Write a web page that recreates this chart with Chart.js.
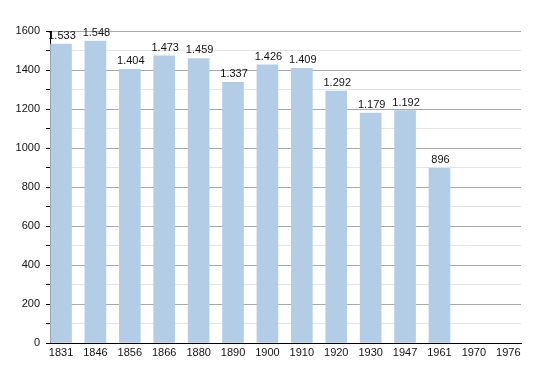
<!DOCTYPE html>
<html>
<head>
<meta charset="utf-8">
<script src="https://cdn.jsdelivr.net/npm/chart.js@4"></script>
<style>
    html, body { margin: 0; padding: 0; background: #fff; }
    canvas { display: block; }
</style>
</head>
<body>
<canvas id="popChart" width="550" height="373"></canvas>
<script>
// population by census year
const years = ['1831', '1846', '1856', '1866', '1880', '1890', '1900', '1910', '1920', '1930', '1947', '1961', '1970', '1976'];
const population = [1533, 1548, 1404, 1473, 1459, 1337, 1426, 1409, 1292, 1179, 1192, 896, null, null];
const yTicks = [0, 200, 400, 600, 800, 1000, 1200, 1400, 1600];

function fmt(v) {
    return String(v).replace(/\B(?=(\d{3})+(?!\d))/g, '.');
}

// values written above each bar
const barLabels = {
    id: 'barLabels',
    afterDatasetsDraw(chart) {
        const ctx = chart.ctx;
        const meta = chart.getDatasetMeta(0);
        ctx.save();
        ctx.font = '11px "Liberation Sans", Arial, sans-serif';
        ctx.fillStyle = '#111';
        ctx.textAlign = 'center';
        ctx.textBaseline = 'alphabetic';
        meta.data.forEach((bar, i) => {
            const v = population[i];
            if (v == null) return;
            ctx.fillText(fmt(v), bar.x + 1, bar.y - 5);
        });
        ctx.restore();
    }
};

const ctx = document.getElementById('popChart').getContext('2d');
new Chart(ctx, {
    type: 'bar',
    data: {
        datasets: [{
            data: population.map((v, i) => ({ x: i, y: v })),
            backgroundColor: '#b3cde6',
            borderWidth: 0,
            barThickness: 21
        }]
    },
    options: {
        responsive: false,
        animation: false,
        events: [],
        layout: { padding: { left: 0, right: 29, top: 31, bottom: 0 } },
        plugins: {
            legend: { display: false },
            tooltip: { enabled: false }
        },
        scales: {
            x: {
                type: 'linear',
                offset: false,
                min: -0.32,
                max: 13.37,
                afterBuildTicks: s => { s.ticks = years.map((y, i) => ({ value: i })); },
                afterFit: s => { s.height = 30; },
                ticks: {
                    autoSkip: false,
                    maxRotation: 0,
                    padding: 3,
                    color: '#111',
                    font: { family: '"Liberation Sans", Arial, sans-serif', size: 11 },
                    callback: v => years[v]
                },
                grid: { display: false, drawTicks: false, offset: false },
                border: { color: '#000', width: 1 }
            },
            y: {
                min: 0,
                max: 1600,
                afterBuildTicks: s => {
                    const t = [];
                    for (let v = 0; v <= 1600; v += 100) t.push({ value: v });
                    s.ticks = t;
                },
                afterFit: s => { s.width = 50; },
                ticks: {
                    autoSkip: false,
                    padding: 6,
                    color: '#111',
                    font: { family: '"Liberation Sans", Arial, sans-serif', size: 11 },
                    callback: v => (yTicks.includes(v) ? String(v) : '')
                },
                grid: {
                    color: c => (c.tick && c.tick.value % 200 === 0 ? '#a8a8a8' : '#e4e4e4'),
                    tickColor: '#000',
                    tickLength: 4,
                    lineWidth: 1
                },
                border: { color: '#000', width: 1 }
            }
        }
    },
    plugins: [barLabels]
});
</script>
</body>
</html>
